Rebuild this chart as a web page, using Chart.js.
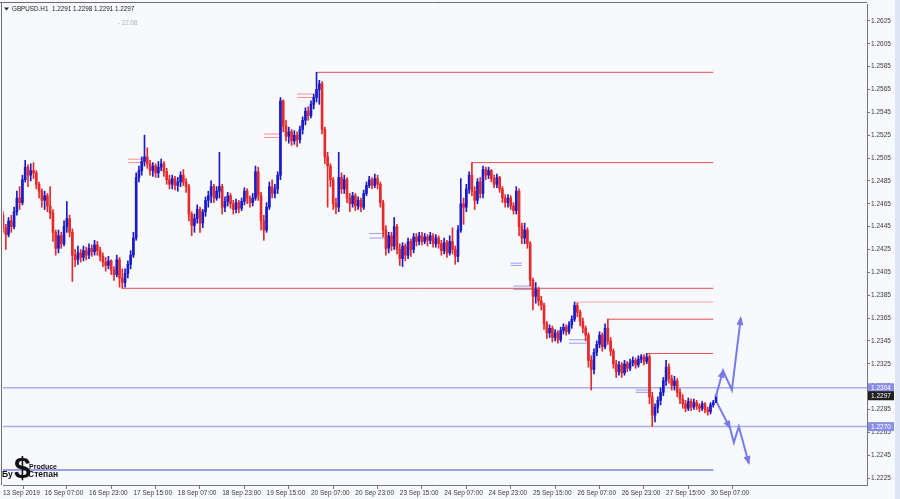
<!DOCTYPE html>
<html>
<head>
<meta charset="utf-8">
<script src="https://cdn.jsdelivr.net/npm/chart.js@4.4.1/dist/chart.umd.min.js"></script>
<style>
  html, body { margin: 0; padding: 0; background: #f8f9fd; }
  #wrap { position: relative; width: 900px; height: 499px; }
</style>
</head>
<body>
<div id="wrap"><canvas id="chart" width="900" height="499"></canvas></div>
<script>
// GBPUSD H1, 13 Sep 2019 16:00 -> 30 Sep 2019 09:00 (one entry per hourly bar)
const symbol = 'GBPUSD.H1';
const serverTime = '- 22:08';
const firstOpen = 1.2455;

const closes = [
  1.2444, 1.2438, 1.2450, 1.2445, 1.2458, 1.2470, 1.2466, 1.2486, 1.2497, 1.2490,
  1.2494, 1.2492, 1.2482, 1.2476, 1.2468, 1.2472, 1.2463, 1.2457, 1.2440, 1.2426,
  1.2437, 1.2430, 1.2445, 1.2452, 1.2440, 1.2420, 1.2416, 1.2422, 1.2418, 1.2424,
  1.2420, 1.2426, 1.2423, 1.2429, 1.2424, 1.2419, 1.2414, 1.2411, 1.2415, 1.2407,
  1.2403, 1.2416, 1.2400, 1.2396, 1.2404, 1.2412, 1.2420, 1.2435, 1.2488, 1.2494,
  1.2502, 1.2506, 1.2500, 1.2494, 1.2498, 1.2492, 1.2497, 1.2500, 1.2493, 1.2486,
  1.2482, 1.2487, 1.2481, 1.2484, 1.2490, 1.2484, 1.2480, 1.2456, 1.2446, 1.2452,
  1.2460, 1.2448, 1.2458, 1.2468, 1.2472, 1.2480, 1.2470, 1.2476, 1.2480, 1.2462,
  1.2467, 1.2472, 1.2465, 1.2460, 1.2466, 1.2461, 1.2467, 1.2476, 1.2470, 1.2466,
  1.2470, 1.2493, 1.2472, 1.2450, 1.2442, 1.2462, 1.2480, 1.2474, 1.2478, 1.2490,
  1.2555, 1.2533, 1.2524, 1.2528, 1.2520, 1.2525, 1.2521, 1.2530, 1.2538, 1.2546,
  1.2542, 1.2552, 1.2558, 1.2565, 1.2570, 1.2530, 1.2506, 1.2498, 1.2486, 1.2465,
  1.2462, 1.2488, 1.2478, 1.2486, 1.2470, 1.2465, 1.2472, 1.2463, 1.2468, 1.2462,
  1.2474, 1.2481, 1.2486, 1.2481, 1.2487, 1.2482, 1.2466, 1.2442, 1.2426, 1.2437,
  1.2428, 1.2445, 1.2425, 1.2417, 1.2428, 1.2420, 1.2432, 1.2425, 1.2436, 1.2432,
  1.2437, 1.2432, 1.2436, 1.2433, 1.2437, 1.2430, 1.2435, 1.2430, 1.2424, 1.2431,
  1.2422, 1.2432, 1.2425, 1.2419, 1.2442, 1.2465, 1.2462, 1.2478, 1.2490, 1.2476,
  1.2468, 1.2484, 1.2474, 1.2495, 1.2490, 1.2494, 1.2487, 1.2482, 1.2488, 1.2478,
  1.2470, 1.2466, 1.2470, 1.2463, 1.2459, 1.2476, 1.2445, 1.2435, 1.2442, 1.2430,
  1.2398, 1.2384, 1.2390, 1.2380, 1.2376, 1.2360, 1.2352, 1.2356, 1.2348, 1.2352,
  1.2346, 1.2354, 1.2357, 1.2353, 1.2359, 1.2364, 1.2376, 1.2370, 1.2362, 1.2356,
  1.2350, 1.2328, 1.2320, 1.2335, 1.2342, 1.2350, 1.2340, 1.2356, 1.2345, 1.2336,
  1.2325, 1.2318, 1.2324, 1.2317, 1.2325, 1.2321, 1.2326, 1.2328, 1.2324, 1.2329,
  1.2331, 1.2327, 1.2331, 1.2296, 1.2280, 1.2287, 1.2293, 1.2300, 1.2310, 1.2322,
  1.2312, 1.2306, 1.2310, 1.2300, 1.2294, 1.2290, 1.2286, 1.2292, 1.2287, 1.2291,
  1.2288, 1.2286, 1.2290, 1.2285, 1.2283, 1.2289, 1.2291, 1.2297
];

const highs = [
  1.2458, 1.2447, 1.2453, 1.2455, 1.2462, 1.2476, 1.2480, 1.2490, 1.2503, 1.2499,
  1.2500, 1.2501, 1.2494, 1.2484, 1.2478, 1.2476, 1.2474, 1.2480, 1.2460, 1.2442,
  1.2442, 1.2440, 1.2450, 1.2467, 1.2455, 1.2443, 1.2425, 1.2428, 1.2425, 1.2428,
  1.2427, 1.2430, 1.2429, 1.2433, 1.2432, 1.2427, 1.2422, 1.2418, 1.2419, 1.2416,
  1.2410, 1.2420, 1.2418, 1.2408, 1.2408, 1.2415, 1.2424, 1.2440, 1.2492, 1.2498,
  1.2506, 1.2525, 1.2514, 1.2503, 1.2501, 1.2500, 1.2502, 1.2504, 1.2502, 1.2496,
  1.2490, 1.2490, 1.2489, 1.2488, 1.2493, 1.2495, 1.2487, 1.2482, 1.2458, 1.2456,
  1.2464, 1.2462, 1.2460, 1.2471, 1.2476, 1.2485, 1.2482, 1.2480, 1.2510, 1.2482,
  1.2471, 1.2475, 1.2474, 1.2468, 1.2469, 1.2468, 1.2470, 1.2479, 1.2478, 1.2472,
  1.2474, 1.2498, 1.2497, 1.2475, 1.2455, 1.2466, 1.2484, 1.2486, 1.2482, 1.2493,
  1.2558, 1.2556, 1.2538, 1.2532, 1.2530, 1.2529, 1.2528, 1.2533, 1.2541, 1.2549,
  1.2550, 1.2555, 1.2561, 1.2580, 1.2573, 1.2572, 1.2532, 1.2510, 1.2500, 1.2488,
  1.2470, 1.2510, 1.2492, 1.2490, 1.2488, 1.2474, 1.2475, 1.2474, 1.2471, 1.2470,
  1.2477, 1.2484, 1.2489, 1.2488, 1.2491, 1.2490, 1.2484, 1.2468, 1.2446, 1.2440,
  1.2440, 1.2453, 1.2447, 1.2430, 1.2431, 1.2430, 1.2435, 1.2434, 1.2439, 1.2439,
  1.2440, 1.2440, 1.2439, 1.2438, 1.2440, 1.2439, 1.2438, 1.2437, 1.2433, 1.2435,
  1.2433, 1.2437, 1.2444, 1.2428, 1.2446, 1.2487, 1.2470, 1.2482, 1.2493, 1.2501,
  1.2480, 1.2487, 1.2488, 1.2498, 1.2497, 1.2497, 1.2495, 1.2490, 1.2491, 1.2489,
  1.2480, 1.2473, 1.2473, 1.2472, 1.2466, 1.2480, 1.2478, 1.2448, 1.2448, 1.2444,
  1.2432, 1.2400, 1.2396, 1.2392, 1.2384, 1.2378, 1.2362, 1.2359, 1.2358, 1.2355,
  1.2354, 1.2357, 1.2360, 1.2359, 1.2362, 1.2367, 1.2379, 1.2378, 1.2372, 1.2365,
  1.2358, 1.2352, 1.2332, 1.2338, 1.2345, 1.2353, 1.2352, 1.2360, 1.2364, 1.2348,
  1.2338, 1.2328, 1.2327, 1.2326, 1.2328, 1.2327, 1.2329, 1.2331, 1.2330, 1.2332,
  1.2333, 1.2333, 1.2334, 1.2333, 1.2300, 1.2290, 1.2296, 1.2304, 1.2313, 1.2328,
  1.2325, 1.2315, 1.2314, 1.2312, 1.2303, 1.2298, 1.2293, 1.2295, 1.2294, 1.2294,
  1.2293, 1.2290, 1.2292, 1.2291, 1.2287, 1.2291, 1.2293, 1.2298
];

const lows = [
  1.2440, 1.2425, 1.2436, 1.2440, 1.2443, 1.2455, 1.2460, 1.2464, 1.2484, 1.2480,
  1.2485, 1.2487, 1.2478, 1.2470, 1.2462, 1.2460, 1.2458, 1.2452, 1.2432, 1.2420,
  1.2422, 1.2426, 1.2428, 1.2440, 1.2436, 1.2397, 1.2410, 1.2412, 1.2414, 1.2415,
  1.2416, 1.2417, 1.2419, 1.2420, 1.2420, 1.2415, 1.2410, 1.2406, 1.2408, 1.2403,
  1.2398, 1.2401, 1.2392, 1.2391, 1.2392, 1.2400, 1.2408, 1.2418, 1.2433, 1.2484,
  1.2490, 1.2498, 1.2496, 1.2490, 1.2489, 1.2488, 1.2488, 1.2494, 1.2489, 1.2482,
  1.2478, 1.2478, 1.2477, 1.2476, 1.2480, 1.2481, 1.2475, 1.2450, 1.2437, 1.2440,
  1.2448, 1.2440, 1.2444, 1.2454, 1.2462, 1.2466, 1.2466, 1.2468, 1.2470, 1.2456,
  1.2458, 1.2463, 1.2461, 1.2456, 1.2457, 1.2457, 1.2459, 1.2464, 1.2465, 1.2462,
  1.2463, 1.2468, 1.2468, 1.2442, 1.2433, 1.2440, 1.2460, 1.2470, 1.2470, 1.2474,
  1.2486, 1.2528, 1.2520, 1.2518, 1.2516, 1.2517, 1.2515, 1.2518, 1.2526, 1.2534,
  1.2538, 1.2540, 1.2548, 1.2554, 1.2552, 1.2526, 1.2500, 1.2462, 1.2480, 1.2460,
  1.2456, 1.2458, 1.2474, 1.2474, 1.2466, 1.2458, 1.2462, 1.2459, 1.2460, 1.2458,
  1.2460, 1.2472, 1.2479, 1.2478, 1.2479, 1.2478, 1.2462, 1.2436, 1.2420, 1.2422,
  1.2424, 1.2425, 1.2421, 1.2411, 1.2410, 1.2415, 1.2417, 1.2419, 1.2422, 1.2428,
  1.2429, 1.2429, 1.2430, 1.2428, 1.2430, 1.2427, 1.2427, 1.2426, 1.2420, 1.2421,
  1.2418, 1.2420, 1.2421, 1.2412, 1.2414, 1.2440, 1.2447, 1.2458, 1.2474, 1.2472,
  1.2460, 1.2465, 1.2470, 1.2470, 1.2486, 1.2487, 1.2484, 1.2479, 1.2479, 1.2475,
  1.2466, 1.2462, 1.2462, 1.2460, 1.2456, 1.2456, 1.2437, 1.2430, 1.2430, 1.2426,
  1.2393, 1.2372, 1.2378, 1.2376, 1.2372, 1.2355, 1.2347, 1.2348, 1.2344, 1.2345,
  1.2343, 1.2344, 1.2351, 1.2350, 1.2351, 1.2356, 1.2362, 1.2366, 1.2358, 1.2352,
  1.2345, 1.2322, 1.2302, 1.2316, 1.2332, 1.2339, 1.2336, 1.2338, 1.2342, 1.2332,
  1.2321, 1.2313, 1.2315, 1.2313, 1.2315, 1.2318, 1.2319, 1.2323, 1.2321, 1.2322,
  1.2326, 1.2324, 1.2325, 1.2290, 1.2270, 1.2274, 1.2282, 1.2289, 1.2297, 1.2306,
  1.2308, 1.2302, 1.2302, 1.2296, 1.2290, 1.2286, 1.2283, 1.2284, 1.2284, 1.2285,
  1.2285, 1.2283, 1.2284, 1.2282, 1.2280, 1.2281, 1.2287, 1.2291
];

// time axis: bar index of each label
const xTickIdx = [0, 15, 31, 47, 63, 79, 95, 111, 127, 143, 159, 175, 191, 207, 223, 239, 255];
const xTickLabels = [
  '13 Sep 2019', '16 Sep 07:00', '16 Sep 23:00', '17 Sep 15:00', '18 Sep 07:00',
  '18 Sep 23:00', '19 Sep 15:00', '20 Sep 07:00', '20 Sep 23:00', '23 Sep 15:00',
  '24 Sep 07:00', '24 Sep 23:00', '25 Sep 15:00', '26 Sep 07:00', '26 Sep 23:00',
  '27 Sep 15:00', '30 Sep 07:00'
];
const yTickValues = [
  1.2225, 1.2245, 1.2265, 1.2285, 1.2305, 1.2325, 1.2345, 1.2365, 1.2385, 1.2405,
  1.2425, 1.2445, 1.2465, 1.2485, 1.2505, 1.2525, 1.2545, 1.2565, 1.2585, 1.2605, 1.2625
];

// drawn objects
const resistLevels = [1.2580, 1.2501, 1.2391, 1.2379, 1.2364, 1.2334];
const resistStart = [113, 169, 43, 206, 218, 232];
const resistEnd = 256;
const guideLevels = [1.2304, 1.2270];
const floorLevel = 1.2232;
const floorEnd = 256;

// short double marks: [from bar, to bar, price]
const redMarks = [
  [45, 51, 1.2504], [45, 51, 1.2501], [94, 100, 1.2526], [94, 100, 1.2523],
  [106, 112, 1.2561], [106, 112, 1.2558]
];
const blueMarks = [
  [132, 138, 1.2439], [132, 138, 1.2435], [183, 187, 1.2413], [183, 187, 1.2411],
  [184, 191, 1.2393], [184, 191, 1.2390], [204, 211, 1.2346], [204, 211, 1.2343],
  [228, 234, 1.2302], [228, 234, 1.2300]
];

// forecast arrows
const upPathX = [256.9, 259.5, 262.7, 265.9];
const upPathY = [1.2296, 1.2319, 1.2302, 1.2365];
const upHeads = [1, 3];
const downPathX = [257.3, 262.0, 263.4, 265.2, 268.8];
const downPathY = [1.2291, 1.2269, 1.2256, 1.2270, 1.2238];
const downHeads = [1, 4];

const bull = '#1b1bc8';
const bear = '#e42a2a';
const bg = '#f8f9fd';

const n = closes.length;
const opens = closes.map((c, i) => i === 0 ? firstOpen : closes[i - 1]);
const candleColor = ctx => closes[ctx.dataIndex] >= opens[ctx.dataIndex] ? bull : bear;

const seg = (x0, x1, y) => [{ x: x0, y: y }, { x: x1, y: y }];
const marksData = rows => {
  const out = [];
  rows.forEach(r => { out.push({ x: r[0], y: r[2] }, { x: r[1], y: r[2] }, { x: r[1], y: null }); });
  return out;
};
const lineSet = (data, color, width, order) => ({
  type: 'line', data: data, borderColor: color, borderWidth: width,
  pointRadius: 0, fill: false, tension: 0, order: order
});

const datasets = [];
datasets.push({
  label: 'wick',
  data: closes.map((c, i) => ({ x: i, y: [lows[i], highs[i]] })),
  backgroundColor: candleColor, barThickness: 1, grouped: false, order: 3
});
datasets.push({
  label: 'body',
  data: closes.map((c, i) => ({ x: i, y: [Math.min(opens[i], c), Math.max(opens[i], c)] })),
  backgroundColor: candleColor, barThickness: 2, minBarLength: 1, grouped: false, order: 2
});
resistLevels.forEach((lv, k) => {
  datasets.push(lineSet(seg(resistStart[k], resistEnd, lv), k === 3 ? '#f2a6a6' : '#e24c4c', 1, 6));
});
guideLevels.forEach(lv => datasets.push(lineSet(seg(-5, 320, lv), '#a9adf0', 1.5, 6)));
datasets.push(lineSet(seg(-5, floorEnd, floorLevel), '#7d80dc', 1.5, 6));
datasets.push(lineSet(marksData(redMarks), '#f09090', 1, 5));
datasets.push(lineSet(marksData(blueMarks), '#9a9ee6', 1, 5));
datasets.push(lineSet(upPathX.map((x, i) => ({ x: x, y: upPathY[i] })), '#777bea', 2, 0));
datasets.push(lineSet(downPathX.map((x, i) => ({ x: x, y: downPathY[i] })), '#777bea', 2, 0));

const decor = {
  id: 'decor',
  beforeDraw(chart) {
    const c = chart.ctx;
    c.save();
    c.fillStyle = bg;
    c.fillRect(0, 0, chart.width, chart.height);
    c.restore();
  },
  afterDatasetsDraw(chart) {
    const c = chart.ctx, xs = chart.scales.x, ys = chart.scales.y;
    const head = (px, py, heads) => {
      heads.forEach(h => {
        const x1 = xs.getPixelForValue(px[h]), y1 = ys.getPixelForValue(py[h]);
        const x0 = xs.getPixelForValue(px[h - 1]), y0 = ys.getPixelForValue(py[h - 1]);
        const a = Math.atan2(y1 - y0, x1 - x0);
        c.beginPath();
        c.moveTo(x1 + Math.cos(a) * 2, y1 + Math.sin(a) * 2);
        c.lineTo(x1 - Math.cos(a) * 7 + Math.sin(a) * 3.5, y1 - Math.sin(a) * 7 - Math.cos(a) * 3.5);
        c.lineTo(x1 - Math.cos(a) * 7 - Math.sin(a) * 3.5, y1 - Math.sin(a) * 7 + Math.cos(a) * 3.5);
        c.closePath();
        c.fill();
      });
    };
    c.save();
    c.fillStyle = '#777bea';
    head(upPathX, upPathY, upHeads);
    head(downPathX, downPathY, downHeads);
    c.restore();
  },
  afterDraw(chart) {
    const c = chart.ctx, ys = chart.scales.y, area = chart.chartArea;
    c.save();
    // price boxes on the axis
    const boxes = [[guideLevels[0], '#8b8ee6'], [closes[n - 1], '#1e1e1e'], [guideLevels[1], '#8b8ee6']];
    c.font = '6.5px "Liberation Sans"';
    c.textBaseline = 'middle';
    boxes.forEach(b => {
      const y = ys.getPixelForValue(b[0]);
      c.fillStyle = b[1];
      c.fillRect(area.right + 1, y - 4.5, 26, 9);
      c.fillStyle = '#ffffff';
      c.fillText(b[0].toFixed(4), area.right + 4, y + 0.5);
    });
    // frame
    c.strokeStyle = '#6e6e6e';
    c.lineWidth = 1;
    c.beginPath();
    c.moveTo(0, 2.5); c.lineTo(area.right, 2.5);
    c.moveTo(1.5, 2); c.lineTo(1.5, area.bottom);
    c.stroke();
    c.fillStyle = '#dde6f4';
    c.fillRect(895, 0, 5, chart.height);
    // header
    c.fillStyle = '#222';
    c.beginPath();
    c.moveTo(4, 7.5); c.lineTo(9, 7.5); c.lineTo(6.5, 10.5); c.closePath(); c.fill();
    c.font = '6.3px "Liberation Sans"';
    c.fillText(symbol + '  ' + [opens[n - 1], highs[n - 1], lows[n - 1], closes[n - 1]].map(v => v.toFixed(4)).join(' '), 12, 9.5);
    c.fillStyle = '#b4b4b4';
    c.fillText(serverTime, 118, 23.5);
    // logo
    c.textBaseline = 'alphabetic';
    c.fillStyle = '#111';
    c.font = 'bold 30px "Liberation Sans"';
    c.fillText('$', 14, 478);
    c.font = 'bold 7px "Liberation Sans"';
    c.fillText('Produce', 29, 469);
    c.font = 'bold 8.5px "Liberation Sans"';
    c.fillText('Бу', 2, 477);
    c.fillText('Степан', 28, 477);
    c.restore();
  }
};

const axisFont = { family: 'Liberation Sans', size: 6.5 };

new Chart(document.getElementById('chart'), {
  type: 'bar',
  data: { datasets: datasets },
  options: {
    responsive: false,
    animation: false,
    layout: { padding: { left: 3, top: 4, right: 0, bottom: 0 } },
    plugins: { legend: { display: false }, tooltip: { enabled: false } },
    scales: {
      x: {
        type: 'linear', min: 0, max: 311.4, offset: false,
        afterBuildTicks: s => { s.ticks = xTickIdx.map(v => ({ value: v })); },
        afterFit: s => { s.height = 14; },
        ticks: {
          autoSkip: false, maxRotation: 0, minRotation: 0, align: 'start', padding: 0,
          color: '#3a3a3a', font: axisFont,
          callback: v => xTickLabels[xTickIdx.indexOf(v)]
        },
        grid: { display: true, drawOnChartArea: false, drawTicks: true, tickLength: 4, color: '#777' },
        border: { display: true, color: '#777' }
      },
      y: {
        type: 'linear', position: 'right', min: 1.22189, max: 1.26390,
        afterBuildTicks: s => { s.ticks = yTickValues.map(v => ({ value: v })); },
        afterFit: s => { s.width = 33; },
        ticks: { color: '#3a3a3a', font: axisFont, padding: 1, callback: v => v.toFixed(4) },
        grid: { display: true, drawOnChartArea: false, drawTicks: true, tickLength: 3, color: '#777' },
        border: { display: true, color: '#777' }
      }
    }
  },
  plugins: [decor]
});
</script>
</body>
</html>
